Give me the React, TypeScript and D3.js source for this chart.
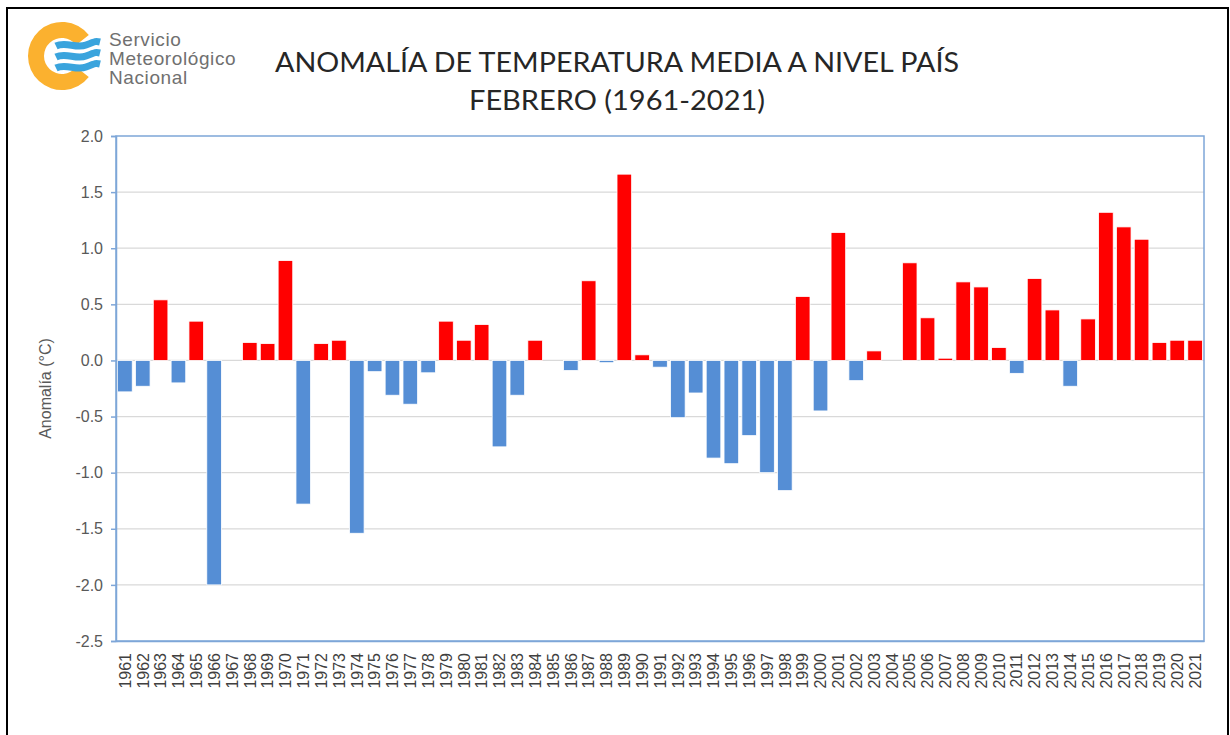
import React from "react";
import * as d3 from "d3";

const years = d3.range(1961, 2022).map(String);

// anomalía de febrero (°C)
const anomalies = [
  -0.28, -0.23, 0.54, -0.2, 0.35, -2.0, 0.0, 0.16, 0.15, 0.89,
  -1.28, 0.15, 0.18, -1.54, -0.1, -0.31, -0.39, -0.11, 0.35, 0.18,
  0.32, -0.77, -0.31, 0.18, 0.0, -0.09, 0.71, -0.02, 1.66, 0.05,
  -0.06, -0.51, -0.29, -0.87, -0.92, -0.67, -1.0, -1.16, 0.57, -0.45,
  1.14, -0.18, 0.085, 0.0, 0.87, 0.38, 0.02, 0.7, 0.655, 0.115,
  -0.115, 0.73, 0.45, -0.23, 0.37, 1.32, 1.19, 1.08, 0.16, 0.18, 0.18,
];

const yTicks = [2.0, 1.5, 1.0, 0.5, 0.0, -0.5, -1.0, -1.5, -2.0, -2.5];

const titleLines = [
  "ANOMALÍA DE TEMPERATURA MEDIA A NIVEL PAÍS",
  "FEBRERO (1961-2021)",
];
const logoLines = ["Servicio", "Meteorológico", "Nacional"];

const W = 1230,
  H = 735;
const margin = { top: 136, right: 26, bottom: 94, left: 116 };

const RED = "#ff0000";
const BLUE = "#558ed5";
const AXIS = "#7ea6d8";

export default function App() {
  const ref = React.useRef<SVGSVGElement>(null);

  React.useEffect(() => {
    const svg = d3.select(ref.current);
    svg.selectAll("*").remove();

    const x = d3
      .scaleBand()
      .domain(years)
      .range([margin.left, W - margin.right])
      .paddingInner(0.18)
      .paddingOuter(0.09);
    const y = d3
      .scaleLinear()
      .domain([-2.5, 2.0])
      .range([H - margin.bottom, margin.top]);

    svg.append("rect").attr("width", W).attr("height", H).attr("fill", "#fff");

    // marco exterior
    svg
      .append("rect")
      .attr("x", 7)
      .attr("y", 8)
      .attr("width", 1221)
      .attr("height", 760)
      .attr("fill", "none")
      .attr("stroke", "#000")
      .attr("stroke-width", 2);

    // grilla
    svg
      .append("g")
      .selectAll("line")
      .data(yTicks.filter((t) => t !== 2.0 && t !== -2.5))
      .join("line")
      .attr("x1", margin.left)
      .attr("x2", W - margin.right)
      .attr("y1", (d) => y(d))
      .attr("y2", (d) => y(d))
      .attr("stroke", "#d9d9d9")
      .attr("stroke-width", 1.3);

    // barras
    svg
      .append("g")
      .selectAll("rect")
      .data(anomalies.map((v, i) => ({ year: years[i], v })))
      .join("rect")
      .attr("x", (d) => x(d.year)!)
      .attr("width", x.bandwidth())
      .attr("y", (d) => y(Math.max(0, d.v)))
      .attr("height", (d) => Math.abs(y(d.v) - y(0)))
      .attr("fill", (d) => (d.v >= 0 ? RED : BLUE))
      .attr("stroke", "#fff")
      .attr("stroke-width", 0.8);

    // borde del área del gráfico
    svg
      .append("rect")
      .attr("x", margin.left)
      .attr("y", margin.top)
      .attr("width", W - margin.left - margin.right)
      .attr("height", H - margin.top - margin.bottom)
      .attr("fill", "none")
      .attr("stroke", AXIS)
      .attr("stroke-width", 1.5);

    // eje Y (guion simple como en Excel)
    const yAxis = svg
      .append("g")
      .attr("transform", `translate(${margin.left},0)`)
      .call(
        d3
          .axisLeft(y)
          .tickValues(yTicks)
          .tickSize(5)
          .tickFormat((d) => (d as number).toFixed(1))
      );
    yAxis.select(".domain").attr("stroke", AXIS).attr("stroke-width", 1.5);
    yAxis.selectAll(".tick line").attr("stroke", AXIS).attr("stroke-width", 1.5);
    yAxis
      .selectAll(".tick text")
      .attr("x", -13)
      .attr("fill", "#595959")
      .style("font-family", "Liberation Sans, Arial, sans-serif")
      .style("font-size", "16px");

    // eje X
    const xAxis = svg
      .append("g")
      .attr("transform", `translate(0,${H - margin.bottom})`)
      .call(d3.axisBottom(x).tickSize(0));
    xAxis.select(".domain").attr("stroke", AXIS).attr("stroke-width", 1.5);
    xAxis
      .selectAll(".tick text")
      .attr("transform", "rotate(-90)")
      .attr("x", -12)
      .attr("y", 0)
      .attr("dy", "0.36em")
      .attr("text-anchor", "end")
      .attr("fill", "#404040")
      .style("font-family", "Liberation Sans, Arial, sans-serif")
      .style("font-size", "16px");

    // título eje Y
    svg
      .append("text")
      .attr("transform", `translate(51,${(margin.top + H - margin.bottom) / 2}) rotate(-90)`)
      .attr("text-anchor", "middle")
      .attr("fill", "#595959")
      .style("font-family", "Liberation Sans, Arial, sans-serif")
      .style("font-size", "16px")
      .text("Anomalía (°C)");

    // título
    svg
      .append("g")
      .selectAll("text")
      .data(titleLines)
      .join("text")
      .attr("x", 617)
      .attr("y", (d, i) => 72 + i * 38)
      .attr("text-anchor", "middle")
      .attr("fill", "#262626")
      .attr("textLength", (d, i) => (i === 0 ? 684 : 296))
      .attr("lengthAdjust", "spacingAndGlyphs")
      .style("font-family", "Lato, 'Open Sans', sans-serif")
      .style("font-size", "27px")
      .text((d) => d);

    // logo
    const logo = svg.append("g").attr("transform", "translate(62,56)");
    logo
      .append("path")
      .attr(
        "d",
        d3
          .arc()
          .innerRadius(18)
          .outerRadius(34)
          .startAngle((128 * Math.PI) / 180)
          .endAngle((412 * Math.PI) / 180)({} as any)
      )
      .attr("fill", "#fbb12f");
    [-11, 0, 11].forEach((dy) => {
      logo
        .append("path")
        .attr(
          "d",
          `M-6,${dy + 1} C4,${dy - 4} 14,${dy + 4} 24,${dy} S34,${dy - 4} 38,${dy - 3}`
        )
        .attr("fill", "none")
        .attr("stroke", "#3aa4dd")
        .attr("stroke-width", 7);
    });
    svg
      .append("g")
      .selectAll("text")
      .data(logoLines)
      .join("text")
      .attr("x", 109)
      .attr("y", (d, i) => 46 + i * 19)
      .attr("fill", "#707070")
      .attr("letter-spacing", 0.6)
      .style("font-family", "Liberation Sans, Arial, sans-serif")
      .style("font-size", "19px")
      .text((d) => d);
  }, []);

  return (
    <svg
      ref={ref}
      width={W}
      height={H}
      style={{ position: "absolute", left: 0, top: 0 }}
    />
  );
}
